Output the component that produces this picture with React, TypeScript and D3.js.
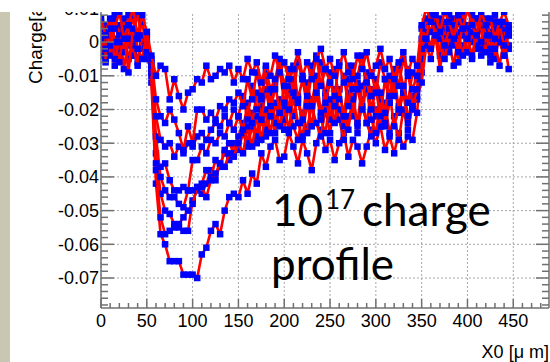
import React from "react";
import * as d3 from "d3";

// Sample positions along X0 [µm]
const xSamples = [
  0, 5, 10, 15, 20, 25, 30, 35, 40, 45, 50, 55, 60, 65, 70, 75, 80, 85, 90, 95,
  100, 105, 110, 115, 120, 125, 130, 135, 140, 145, 150, 155, 160, 165, 170, 175, 180, 185, 190, 195,
  200, 205, 210, 215, 220, 225, 230, 235, 240, 245, 250, 255, 260, 265, 270, 275, 280, 285, 290, 295,
  300, 305, 310, 315, 320, 325, 330, 335, 340, 345, 350, 355, 360, 365, 370, 375, 380, 385, 390, 395,
  400, 405, 410, 415, 420, 425, 430, 435, 440, 445,
];

// Charge values, in units of 1e-3 (a.u.)
const seriesA = [
  2, -5, 6, 1, -4, 7, -1, 3, -6, 2, 1,
  -12, -42, -57, -60, -65, -65, -65, -69, -69, -69, -70, -63, -61, -56, -54, -57, -50, -46, -45,
  -46, -41, -45, -39, -42, -33, -37, -31, -29, -35, -34, -27, -31, -36, -29, -33, -38, -30, -26, -32,
  -29, -35, -30, -27, -34, -29, -31, -36, -31, -26, -30, -25, -32, -28, -33, -27, -31, -28, -29, -21,
  -4, 6, 8, 1, 5, -3, 3, 7, -1, 9, 3, 6, -2, 5, 2, -6, 5, 0, 3, -1,
];
const seriesF = [
  -3, 5, 0, -7, 2, -2, 8, -4, 3, 0, -5,
  -8, -33, -45, -50, -51, -54, -55, -56, -56, -47, -44, -45, -42, -38, -41, -36, -33, -35, -30,
  -32, -27, -31, -25, -30, -23, -28, -21, -27, -20, -26, -19, -25, -29, -21, -26, -19, -24, -28, -20,
  -27, -18, -23, -29, -22, -19, -27, -17, -24, -28, -20, -25, -18, -27, -22, -29, -20, -26, -19, -17,
  -9, 2, -1, 6, -4, 4, 0, -7, 2, 5, -3, 2, 7, -4, 3, 1, -5, 2, 4, -2,
];
const seriesG = [
  6, 0, 3, 8, -2, 4, -5, 1, 9, -1, 2,
  -10, -38, -52, -57, -56, -55, -54, -52, -50, -48, -43, -42, -38, -40, -35, -37, -32, -30, -33,
  -28, -24, -30, -21, -28, -19, -26, -15, -24, -17, -23, -14, -22, -16, -24, -27, -17, -13, -22, -16,
  -23, -14, -20, -25, -15, -22, -12, -19, -24, -14, -22, -16, -25, -18, -12, -21, -15, -24, -16, -14,
  -5, 6, 10, 3, 7, 1, 8, 4, 11, 3, 5, 0, 7, 4, -1, 6, 8, 3, 6, 2,
];
const seriesE = [
  0, -6, 2, -3, 5, -8, 1, -4, 3, -2, -4,
  -6, -28, -40, -44, -46, -46, -48, -49, -44, -44, -43, -43, -46, -41, -39, -36, -37, -33, -34,
  -30, -33, -25, -31, -22, -29, -20, -27, -18, -25, -19, -26, -16, -24, -28, -18, -25, -15, -23, -27,
  -17, -24, -14, -22, -26, -16, -25, -19, -14, -23, -27, -17, -24, -15, -25, -19, -13, -22, -20, -16,
  -12, -1, -5, 2, -8, 1, -3, 3, -6, -1, 2, -5, 1, -2, 4, -4, 0, -7, 1, -8,
];
const seriesD = [
  4, 1, -4, 7, 2, -3, 5, -1, -7, 2, 0,
  -9, -36, -37, -36, -41, -44, -44, -43, -44, -35, -35, -31, -33, -29, -30, -27, -28, -24, -26,
  -22, -26, -18, -24, -15, -23, -14, -22, -12, -21, -13, -20, -11, -18, -23, -12, -19, -10, -21, -15,
  -9, -19, -14, -22, -11, -17, -24, -13, -10, -20, -14, -22, -11, -18, -9, -20, -15, -8, -19, -14,
  1, 7, 3, 9, 4, 6, -1, 5, 3, -4, 4, 8, 2, 5, -3, 3, 6, 1, -4, 4,
];
const seriesH = [
  -4, 3, 7, 0, -6, 4, 1, 8, -2, -5, 3,
  -7, -22, -29, -31, -30, -34, -31, -33, -30, -31, -28, -27, -29, -26, -24, -25, -22, -24, -20,
  -22, -16, -23, -13, -20, -17, -10, -19, -14, -8, -18, -13, -7, -17, -11, -19, -9, -15, -6, -18,
  -12, -8, -17, -10, -19, -7, -14, -20, -9, -16, -11, -15, -21, -10, -16, -7, -13, -18, -9, -11,
  -2, 3, -2, 5, 1, -5, 2, -1, 6, 2, -3, 3, -1, 7, 2, -2, 4, 0, -4, 3,
];
const seriesC = [
  1, -2, 4, -5, 0, 3, -9, 4, 1, 6, -3,
  -5, -17, -22, -24, -20, -23, -27, -32, -25, -30, -20, -20, -23, -21, -23, -19, -20, -17, -18,
  -15, -19, -11, -17, -9, -16, -8, -14, -11, -5, -13, -8, -15, -6, -11, -16, -7, -4, -13, -8,
  -12, -16, -6, -12, -7, -14, -10, -4, -12, -9, -15, -6, -11, -16, -8, -13, -5, -10, -14, -10,
  4, 1, 8, 2, 5, -1, 4, 2, -3, 6, 1, -4, 3, 0, 7, 2, -2, 5, -1, 2,
];
const seriesB = [
  7, 2, -1, 4, 9, 1, 5, 10, 2, 8, 3,
  -4, -10, -7, -8, -17, -11, -16, -20, -15, -14, -11, -12, -7, -11, -10, -8, -9, -7, -12,
  -8, -11, -5, -9, -6, -12, -7, -10, -4, -9, -6, -11, -8, -3, -10, -6, -11, -5, -2, -8,
  -5, -10, -7, -3, -9, -11, -4, -8, -3, -10, -7, -2, -8, -5, -11, -6, -3, -9, -5, -7,
  5, 10, 6, 8, 3, 9, 6, 1, 8, 4, 10, 5, 2, 9, 5, 7, 1, 6, 9, 5,
];

const allSeries = [seriesA, seriesF, seriesG, seriesE, seriesD, seriesH, seriesC, seriesB];

const xTickValues = [0, 50, 100, 150, 200, 250, 300, 350, 400, 450];
const yTickValues = [-0.07, -0.06, -0.05, -0.04, -0.03, -0.02, -0.01, 0, 0.01];
const yTickLabels = ["-0.07", "-0.06", "-0.05", "-0.04", "-0.03", "-0.02", "-0.01", "0", "0.01"];

const W = 550;
const H = 362;
const frame = { left: 101, right: 549, top: 2, bottom: 308 };
const xDomain: [number, number] = [0, 489];
const yDomain: [number, number] = [-0.0789, 0.0119];

const AXIS = "#707070";
const GRID = "#a8a8a8";
const FONT = "'Liberation Sans', Arial, Helvetica, sans-serif";

export default function App() {
  const x = d3.scaleLinear().domain(xDomain).range([frame.left, frame.right]);
  const y = d3.scaleLinear().domain(yDomain).range([frame.bottom, frame.top]);
  const line = d3
    .line<[number, number]>()
    .x((d) => x(d[0]))
    .y((d) => y(d[1]));

  const xMinor = d3.range(0, xDomain[1], 10).filter((v) => v % 50 !== 0);
  const yMinor = d3
    .range(-78, 12, 2)
    .filter((v) => v % 10 !== 0)
    .map((v) => v / 1000);

  const ms = 6.5;

  return (
    <div style={{ position: "absolute", left: 0, top: 0, width: W, height: H }}>
      <svg width={W} height={H} style={{ display: "block", background: "#fff" }}>
        <defs>
          <clipPath id="frameClip">
            <rect
              x={frame.left}
              y={frame.top}
              width={frame.right - frame.left}
              height={frame.bottom - frame.top}
            />
          </clipPath>
          <clipPath id="titleClip">
            <rect x={0} y={12} width={W} height={H - 12} />
          </clipPath>
        </defs>
        <rect x={0} y={0} width={W} height={H} fill="#fff" />
        <rect x={0} y={12} width={10} height={H - 12} fill="#c9c6b2" />

        {/* grid */}
        <g stroke={GRID} strokeWidth={1} strokeDasharray="2,2">
          {xTickValues.map((v) => (
            <line key={"gx" + v} x1={x(v)} x2={x(v)} y1={frame.top} y2={frame.bottom} />
          ))}
          {yTickValues.map((v) => (
            <line key={"gy" + v} x1={frame.left} x2={frame.right} y1={y(v)} y2={y(v)} />
          ))}
        </g>

        {/* data */}
        <g clipPath="url(#frameClip)">
          {allSeries.map((s, i) => {
            const n = Math.min(s.length, xSamples.length);
            const pts: [number, number][] = [];
            for (let k = 0; k < n; k++) pts.push([xSamples[k], s[k] / 1000]);
            return (
              <g key={"s" + i}>
                <path d={line(pts) || ""} fill="none" stroke="#ff0000" strokeWidth={2.6} strokeLinejoin="round" />
                {pts.map((p, k) => (
                  <rect
                    key={k}
                    x={x(p[0]) - ms / 2}
                    y={y(p[1]) - ms / 2}
                    width={ms}
                    height={ms}
                    fill="#0000ff"
                  />
                ))}
              </g>
            );
          })}
        </g>

        {/* axes */}
        <g stroke={AXIS} strokeWidth={1.5} fill="none">
          <line x1={frame.left} x2={frame.left} y1={frame.top} y2={frame.bottom} />
          <line x1={frame.right} x2={frame.right} y1={frame.top} y2={frame.bottom} />
          <line x1={frame.left} x2={frame.right} y1={frame.bottom} y2={frame.bottom} />
          {xTickValues.map((v) => (
            <line key={"xt" + v} x1={x(v)} x2={x(v)} y1={frame.bottom} y2={frame.bottom - 9} />
          ))}
          {xMinor.map((v) => (
            <line key={"xm" + v} x1={x(v)} x2={x(v)} y1={frame.bottom} y2={frame.bottom - 5} />
          ))}
          {yTickValues.map((v) => (
            <g key={"yt" + v}>
              <line x1={frame.left} x2={frame.left + 13} y1={y(v)} y2={y(v)} />
              <line x1={frame.right} x2={frame.right - 13} y1={y(v)} y2={y(v)} />
            </g>
          ))}
          {yMinor.map((v) => (
            <g key={"ym" + v}>
              <line x1={frame.left} x2={frame.left + 7} y1={y(v)} y2={y(v)} />
              <line x1={frame.right} x2={frame.right - 7} y1={y(v)} y2={y(v)} />
            </g>
          ))}
        </g>

        {/* tick labels */}
        <g fontFamily={FONT} fontSize={18} fill="#000">
          {xTickValues.map((v) => (
            <text key={"xl" + v} x={x(v)} y={327} textAnchor="middle">
              {String(v)}
            </text>
          ))}
          {yTickValues.map((v, i) => (
            <text key={"yl" + v} x={99} y={y(v)} dy="0.35em" textAnchor="end">
              {yTickLabels[i]}
            </text>
          ))}
        </g>

        {/* axis titles */}
        <text x={549} y={358} textAnchor="end" fontFamily={FONT} fontSize={18} fill="#000">
          X0 [μ m]
        </text>
        <g clipPath="url(#titleClip)">
          <text
            transform="translate(42,84) rotate(-90)"
            textAnchor="start"
            fontFamily={FONT}
            fontSize={19}
            fill="#000"
          >
            Charge[a.u.]
          </text>
        </g>

        {/* annotation */}
        <g fontFamily="Lato, 'Open Sans', sans-serif" fill="#000">
          <text x={272} y={226} fontSize={44}>10</text>
          <text x={325} y={209} fontSize={26}>17</text>
          <text x={362} y={226} fontSize={44}>charge</text>
          <text x={271} y={280} fontSize={44}>profile</text>
        </g>

        {/* top white band */}
        <rect x={0} y={0} width={W} height={12} fill="#fff" />
      </svg>
    </div>
  );
}
